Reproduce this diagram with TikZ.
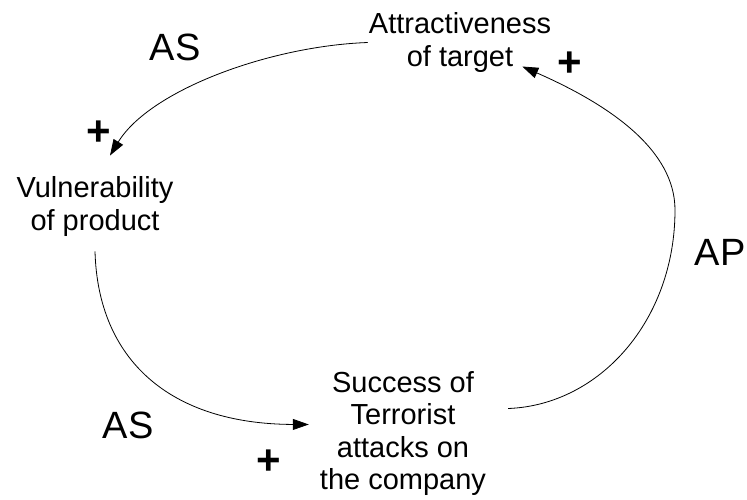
\documentclass[tikz,border=0pt]{standalone}
\usepackage{fontspec}
\setmainfont{Liberation Sans}
\usetikzlibrary{arrows.meta}

\begin{document}
\begin{tikzpicture}[x=1pt,y=-1pt,
  var/.style={align=center,inner sep=1pt,font=\fontsize{29}{32.5}\selectfont},
  loopname/.style={inner sep=0pt,font=\fontsize{38}{40}\selectfont},
  sgn/.style={inner sep=0pt,font=\fontsize{42}{42}\selectfont\bfseries},
  link/.style={line width=0.8pt,-{Triangle[length=16pt,width=11pt]}}]
\useasboundingbox (0,0) rectangle (747,499);
%variabler
\node[var] (target) at (460,42.5) {Attractiveness\\of target};
\node[var] (vuln) at (95,206.5) {Vulnerability\\of product};
\node[var] (success) at (403,433.5) {Success of\\Terrorist\\attacks on\\the company};
%loop names and signs
\node[loopname] (as1) at (175,47) {AS};
\node[loopname] (as2) at (128,425) {AS};
\node[loopname] (ap) at (720,252) {AP};
\node[sgn] (plus1) at (570,64) {+};
\node[sgn] (plus2) at (99,133) {+};
\node[sgn] (plus3) at (269,462) {+};
%links
\draw[link] (target.west) .. controls (270,46) and (150,90) .. ([xshift=15pt,yshift=20pt]vuln.north);
\draw[link] ([yshift=-14pt]vuln.south) .. controls (98,360) and (170,424) .. ([xshift=-10pt,yshift=9pt]success.west);
\draw[link] ([xshift=21pt,yshift=25pt]success.east) .. controls (600,405) and (675,320) .. (675,210)
  .. controls (675,150) and (610,105) .. ([xshift=-30pt,yshift=-24pt]target.east);
\end{tikzpicture}
\end{document}
